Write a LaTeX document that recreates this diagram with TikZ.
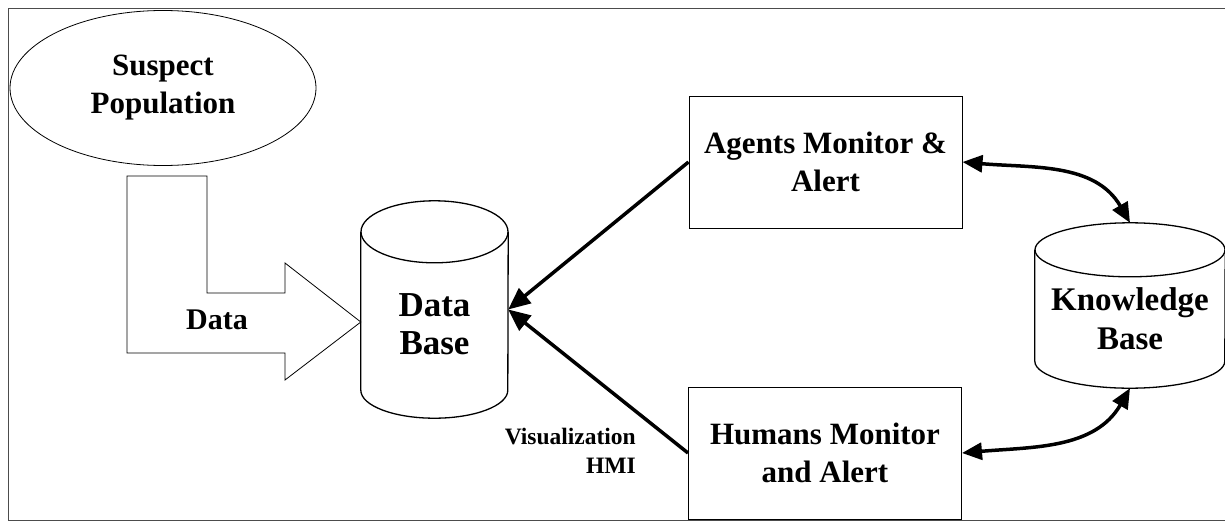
\documentclass[tikz,border=0pt]{standalone}
\usepackage{fontspec}
\setmainfont{Liberation Serif}
\usetikzlibrary{shapes.geometric, arrows.meta, positioning}

\begin{document}
\begin{tikzpicture}[x=1pt, y=-1pt]
    \tikzstyle{label} = [font=\fontsize{31}{38}\selectfont\bfseries, align=center, inner sep=0pt]
    \tikzstyle{smalllabel} = [font=\fontsize{23.5}{29}\selectfont\bfseries, align=right, inner sep=0pt]
    \tikzstyle{source} = [ellipse, draw=black, line width=0.8pt, minimum width=306pt, minimum height=155pt, inner sep=0pt]
    \tikzstyle{process} = [rectangle, draw=black, line width=1pt, minimum width=273pt, minimum height=132pt, inner sep=0pt]
    \tikzstyle{store} = [rectangle, inner sep=0pt]
    \tikzstyle{storeline} = [draw=black, line width=1.3pt]
    \tikzstyle{arrow} = [line width=3.5pt, -{Triangle[length=22pt, width=19pt]}]
    \tikzstyle{twoway} = [line width=3.5pt, {Triangle[length=20pt, width=17pt]}-{Triangle[length=20pt, width=17pt]}]

    \useasboundingbox (0,0) rectangle (1225,522);
    \draw[line width=0.8pt, black!70] (8,8) rectangle (1240,520);

    \node (suspect) [source] at (163,88) {};
    \node (suspecttext) [label] at (suspect.center) {Suspect\\Population};

    % data base cylinder
    \node (db) [store, minimum width=147pt, minimum height=217pt] at (434.5,309.5) {};
    \draw[storeline] ([yshift=-31pt]db.north) ellipse [x radius=73.5pt, y radius=31pt];
    \draw[storeline] ([yshift=-31pt]db.north west) -- ([yshift=28pt]db.south west)
        arc[start angle=180, end angle=360, x radius=73.5pt, y radius=28pt] -- ([yshift=-31pt]db.north east);
    \node (dbtext) [label, font=\fontsize{35}{38}\selectfont\bfseries] at ([yshift=-15pt]db.center) {Data\\Base};

    % knowledge base cylinder
    \node (kb) [store, minimum width=190pt, minimum height=165pt] at (1130,305.5) {};
    \draw[storeline] ([yshift=-27pt]kb.north) ellipse [x radius=95pt, y radius=27pt];
    \draw[storeline] ([yshift=-27pt]kb.north west) -- ([yshift=27pt]kb.south west)
        arc[start angle=180, end angle=360, x radius=95pt, y radius=27pt] -- ([yshift=-27pt]kb.north east);
    \node (kbtext) [label, font=\fontsize{33}{39}\selectfont\bfseries] at ([yshift=-13pt]kb.center) {Knowledge\\Base};

    \node (agents) [process, label] at (825.5,162) {Agents Monitor \&\\Alert};
    \node (humans) [process, label] at (825,453) {Humans Monitor\\and Alert};

    % block arrow from the population into the data base
    \draw[line width=0.8pt] (127,176) -- (207,176) -- (207,293) -- (285,293) -- (285,263)
        -- (db.west |- 0,322) -- (285,380) -- (285,353) -- (127,353) -- cycle;
    \node (datatext) [label, font=\fontsize{30}{36}\selectfont\bfseries] at (217,320) {Data};

    \draw [arrow] (agents.west) -- (db.east);
    \draw [arrow] (humans.west) -- (db.east);
    \node (vis) [smalllabel, anchor=north east] at (636,428) {Visualization\\HMI};

    \draw [twoway] (agents.east) to[out=-5, in=120] (kb.north);
    \draw [twoway] (humans.east) to[out=5, in=-120] (kb.south);
\end{tikzpicture}
\end{document}
